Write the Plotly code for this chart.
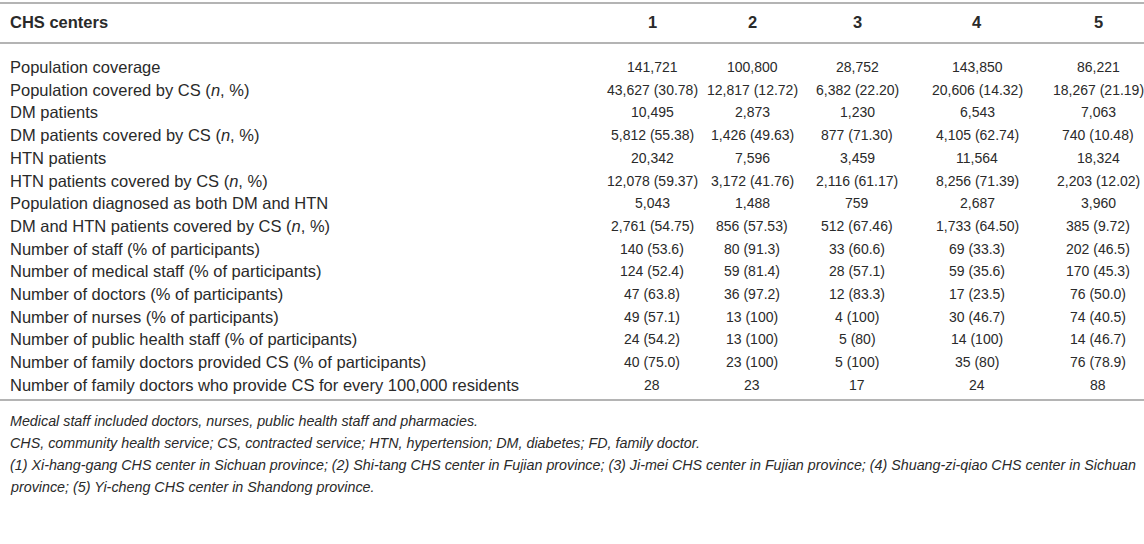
import plotly.graph_objects as go

# table content
header = ["CHS centers", "1", "2", "3", "4", "5"]

row_labels = [
    "Population coverage",
    "Population covered by CS (<i>n</i>, %)",
    "DM patients",
    "DM patients covered by CS (<i>n</i>, %)",
    "HTN patients",
    "HTN patients covered by CS (<i>n</i>, %)",
    "Population diagnosed as both DM and HTN",
    "DM and HTN patients covered by CS (<i>n</i>, %)",
    "Number of staff (% of participants)",
    "Number of medical staff (% of participants)",
    "Number of doctors (% of participants)",
    "Number of nurses (% of participants)",
    "Number of public health staff (% of participants)",
    "Number of family doctors provided CS (% of participants)",
    "Number of family doctors who provide CS for every 100,000 residents",
]

center_1 = ["141,721", "43,627 (30.78)", "10,495", "5,812 (55.38)", "20,342", "12,078 (59.37)",
            "5,043", "2,761 (54.75)", "140 (53.6)", "124 (52.4)", "47 (63.8)", "49 (57.1)",
            "24 (54.2)", "40 (75.0)", "28"]
center_2 = ["100,800", "12,817 (12.72)", "2,873", "1,426 (49.63)", "7,596", "3,172 (41.76)",
            "1,488", "856 (57.53)", "80 (91.3)", "59 (81.4)", "36 (97.2)", "13 (100)",
            "13 (100)", "23 (100)", "23"]
center_3 = ["28,752", "6,382 (22.20)", "1,230", "877 (71.30)", "3,459", "2,116 (61.17)",
            "759", "512 (67.46)", "33 (60.6)", "28 (57.1)", "12 (83.3)", "4 (100)",
            "5 (80)", "5 (100)", "17"]
center_4 = ["143,850", "20,606 (14.32)", "6,543", "4,105 (62.74)", "11,564", "8,256 (71.39)",
            "2,687", "1,733 (64.50)", "69 (33.3)", "59 (35.6)", "17 (23.5)", "30 (46.7)",
            "14 (100)", "35 (80)", "24"]
center_5 = ["86,221", "18,267 (21.19)", "7,063", "740 (10.48)", "18,324", "2,203 (12.02)",
            "3,960", "385 (9.72)", "202 (46.5)", "170 (45.3)", "76 (50.0)", "74 (40.5)",
            "14 (46.7)", "76 (78.9)", "88"]

notes = [
    "Medical staff included doctors, nurses, public health staff and pharmacies.",
    "CHS, community health service; CS, contracted service; HTN, hypertension; DM, diabetes; FD, family doctor.",
    "(1) Xi-hang-gang CHS center in Sichuan province; (2) Shi-tang CHS center in Fujian province; "
    "(3) Ji-mei CHS center in Fujian province; (4) Shuang-zi-qiao CHS center in Sichuan",
    "province; (5) Yi-cheng CHS center in Shandong province.",
]

W, H = 1144, 544
col_x = [8, 652, 752, 857, 977, 1098]
header_y = 22
row_y0, row_dy = 67, 22.7
rule_y = [3, 43, 400]
note_y0, note_dy = 421, 22

txt = "#2a2a2a"
rule = "#b4b4b4"
font = "Liberation Sans"

fig = go.Figure()
ann = []

for i, h in enumerate(header):
    ann.append(dict(x=col_x[i], y=header_y, text="<b>%s</b>" % h,
                    xanchor="left" if i == 0 else "center", yanchor="middle",
                    showarrow=False, font=dict(size=16.5, color=txt, family=font)))

columns = [center_1, center_2, center_3, center_4, center_5]
for r, lab in enumerate(row_labels):
    y = row_y0 + r * row_dy
    ann.append(dict(x=col_x[0], y=y, text=lab, xanchor="left", yanchor="middle",
                    showarrow=False, font=dict(size=16.5, color=txt, family=font)))
    for c, col in enumerate(columns):
        ann.append(dict(x=col_x[c + 1], y=y, text=col[r], xanchor="center", yanchor="middle",
                        showarrow=False, font=dict(size=14, color=txt, family=font)))

for k, n in enumerate(notes):
    ann.append(dict(x=col_x[0], y=note_y0 + k * note_dy, text="<i>%s</i>" % n,
                    xanchor="left", yanchor="middle", showarrow=False,
                    font=dict(size=14.3, color=txt, family=font)))

shapes = [dict(type="line", x0=0, x1=W, y0=y, y1=y, xref="x", yref="y",
               line=dict(color=rule, width=2)) for y in rule_y]

fig.update_layout(
    width=W, height=H,
    margin=dict(l=0, r=0, t=0, b=0),
    paper_bgcolor="white", plot_bgcolor="white",
    xaxis=dict(range=[0, W], visible=False, fixedrange=True),
    yaxis=dict(range=[H, 0], visible=False, fixedrange=True),
    annotations=ann, shapes=shapes,
    showlegend=False,
)

fig.write_html("out.html", config={"staticPlot": True},
               post_script="document.body.style.margin='0';")
